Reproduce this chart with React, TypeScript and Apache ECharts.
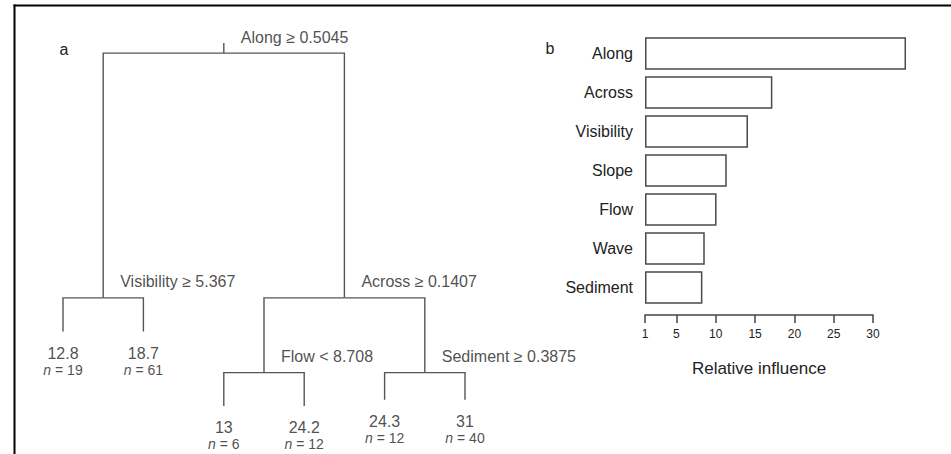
import React, { useEffect, useRef } from "react";
import * as echarts from "echarts";

// ---- Panel b: relative influence ----
const predictors = ["Along", "Across", "Visibility", "Slope", "Flow", "Wave", "Sediment"];
const influence = [34.2, 17.2, 14.1, 11.4, 10.1, 8.6, 8.3];
const influenceTicks = [1, 5, 10, 15, 20, 25, 30];

// ---- Panel a: regression tree ----
// split nodes: s0 (root) .. s4
const splitIds = ["s0", "s1", "s2", "s3", "s4"];
const splitLabels = ["Along \u2265 0.5045", "Visibility \u2265 5.367", "Across \u2265 0.1407", "Flow < 8.708", "Sediment \u2265 0.3875"];
const splitHeights = [97.2, 29.8, 29.8, 9.2, 9.2];
const splitChildren = [["s1", "s2"], ["l0", "l1"], ["s3", "s4"], ["l2", "l3"], ["l4", "l5"]];
const rootStemTop = 100;
// leaves l0 .. l5
const leafIds = ["l0", "l1", "l2", "l3", "l4", "l5"];
const leafOrder = [1, 2, 3, 4, 5, 6];
const leafMeans = ["12.8", "18.7", "13", "24.2", "24.3", "31"];
const leafCounts = [19, 61, 6, 12, 12, 40];
const leafHeights = [20.5, 20.5, 0, 0, 1.7, 1.7];

const FONT = "'Liberation Sans', Arial, Helvetica, sans-serif";
const TEXT = "#222";
const LINE = "#555";

function buildTree() {
  const pos: Record<string, [number, number]> = {};
  leafIds.forEach((id, i) => (pos[id] = [leafOrder[i], leafHeights[i]]));
  const xOf = (id: string): number => {
    if (pos[id]) return pos[id][0];
    const k = splitIds.indexOf(id);
    const x = (xOf(splitChildren[k][0]) + xOf(splitChildren[k][1])) / 2;
    pos[id] = [x, splitHeights[k]];
    return x;
  };
  splitIds.forEach((id) => xOf(id));
  const edges: number[][][] = [];
  const r = pos["s0"];
  edges.push([[r[0], rootStemTop], [r[0], r[1]]]);
  splitIds.forEach((id, k) => {
    const p = pos[id];
    splitChildren[k].forEach((c) => {
      const q = pos[c];
      edges.push([[p[0], p[1]], [q[0], p[1]], [q[0], q[1]]]);
    });
  });
  return { pos, edges };
}

export default function App() {
  const ref = useRef<HTMLDivElement>(null);
  useEffect(() => {
    if (!ref.current) return;
    const chart = echarts.init(ref.current, null, { renderer: "svg" });
    const { pos, edges } = buildTree();

    const option: any = {
      animation: false,
      backgroundColor: "#fff",
      textStyle: { fontFamily: FONT },
      grid: [
        { left: 645, right: 78, top: 34, bottom: 147 },
        { left: 22.8, width: 482.4, top: 43, bottom: 48 },
      ],
      xAxis: [
        {
          gridIndex: 0,
          type: "value",
          min: 1,
          max: 30,
          startValue: 1,
          offset: 8,
          splitLine: { show: false },
          axisLine: { show: true, lineStyle: { color: "#444", width: 1.5 } },
          axisTick: { show: true, length: 8, lineStyle: { color: "#444", width: 1.5 }, customValues: influenceTicks },
          axisLabel: { fontSize: 12, color: TEXT, margin: 13, fontFamily: FONT, customValues: influenceTicks },
          name: "Relative influence",
          nameLocation: "middle",
          nameGap: 45,
          nameTextStyle: { fontSize: 17, color: TEXT, fontFamily: FONT },
        },
        { gridIndex: 1, type: "value", min: 0.5, max: 6.5, show: false },
      ],
      yAxis: [
        {
          gridIndex: 0,
          type: "category",
          data: predictors,
          inverse: true,
          axisLine: { show: false },
          axisTick: { show: false },
          axisLabel: { fontSize: 16, color: TEXT, margin: 12, fontFamily: FONT },
        },
        { gridIndex: 1, type: "value", min: 0, max: 100, show: false },
      ],
      series: [
        {
          type: "bar",
          xAxisIndex: 0,
          yAxisIndex: 0,
          data: influence,
          clip: false,
          barCategoryGap: "17%",
          itemStyle: { color: "#fff", borderColor: "#4a4a4a", borderWidth: 1.5 },
        },
        {
          type: "lines",
          coordinateSystem: "cartesian2d",
          xAxisIndex: 1,
          yAxisIndex: 1,
          polyline: true,
          silent: true,
          lineStyle: { color: LINE, width: 1.4, opacity: 1 },
          data: edges.map((c) => ({ coords: c })),
        },
        {
          type: "scatter",
          xAxisIndex: 1,
          yAxisIndex: 1,
          symbolSize: 0,
          silent: true,
          data: splitIds.map((id, k) => ({ value: pos[id], name: splitLabels[k] })),
          label: {
            show: true,
            position: [17, -16],
            align: "left",
            verticalAlign: "middle",
            formatter: (p: any) => p.name,
            fontSize: 16,
            color: TEXT,
            fontFamily: FONT,
          },
        },
        {
          type: "scatter",
          xAxisIndex: 1,
          yAxisIndex: 1,
          symbolSize: 0,
          silent: true,
          data: leafIds.map((id, i) => ({ value: pos[id], name: leafMeans[i], n: leafCounts[i] })),
          label: {
            show: true,
            position: [0, 13],
            align: "center",
            verticalAlign: "top",
            formatter: (p: any) => `{v|${p.data.name}}\n{i|n}{e| = ${p.data.n}}`,
            fontFamily: FONT,
            color: TEXT,
            rich: {
              v: { fontSize: 16, lineHeight: 17, color: TEXT, fontFamily: FONT, align: "center" },
              i: { fontSize: 14, lineHeight: 16, fontStyle: "italic", color: TEXT, fontFamily: FONT },
              e: { fontSize: 14, lineHeight: 16, color: TEXT, fontFamily: FONT },
            },
          },
        },
      ],
      graphic: [
        { type: "line", shape: { x1: 13.5, y1: 5.5, x2: 951, y2: 5.5 }, style: { stroke: "#000", lineWidth: 2 } },
        { type: "line", shape: { x1: 14.5, y1: 4.5, x2: 14.5, y2: 454 }, style: { stroke: "#000", lineWidth: 2 } },
        { type: "text", x: 64, y: 49, style: { text: "a", fontSize: 16, fill: TEXT, fontFamily: FONT, align: "center", verticalAlign: "middle" } },
        { type: "text", x: 550, y: 48, style: { text: "b", fontSize: 16, fill: TEXT, fontFamily: FONT, align: "center", verticalAlign: "middle" } },
      ],
    };
    chart.setOption(option);
    return () => chart.dispose();
  }, []);
  return <div ref={ref} style={{ position: "fixed", left: 0, top: 0, width: 951, height: 454 }} />;
}
